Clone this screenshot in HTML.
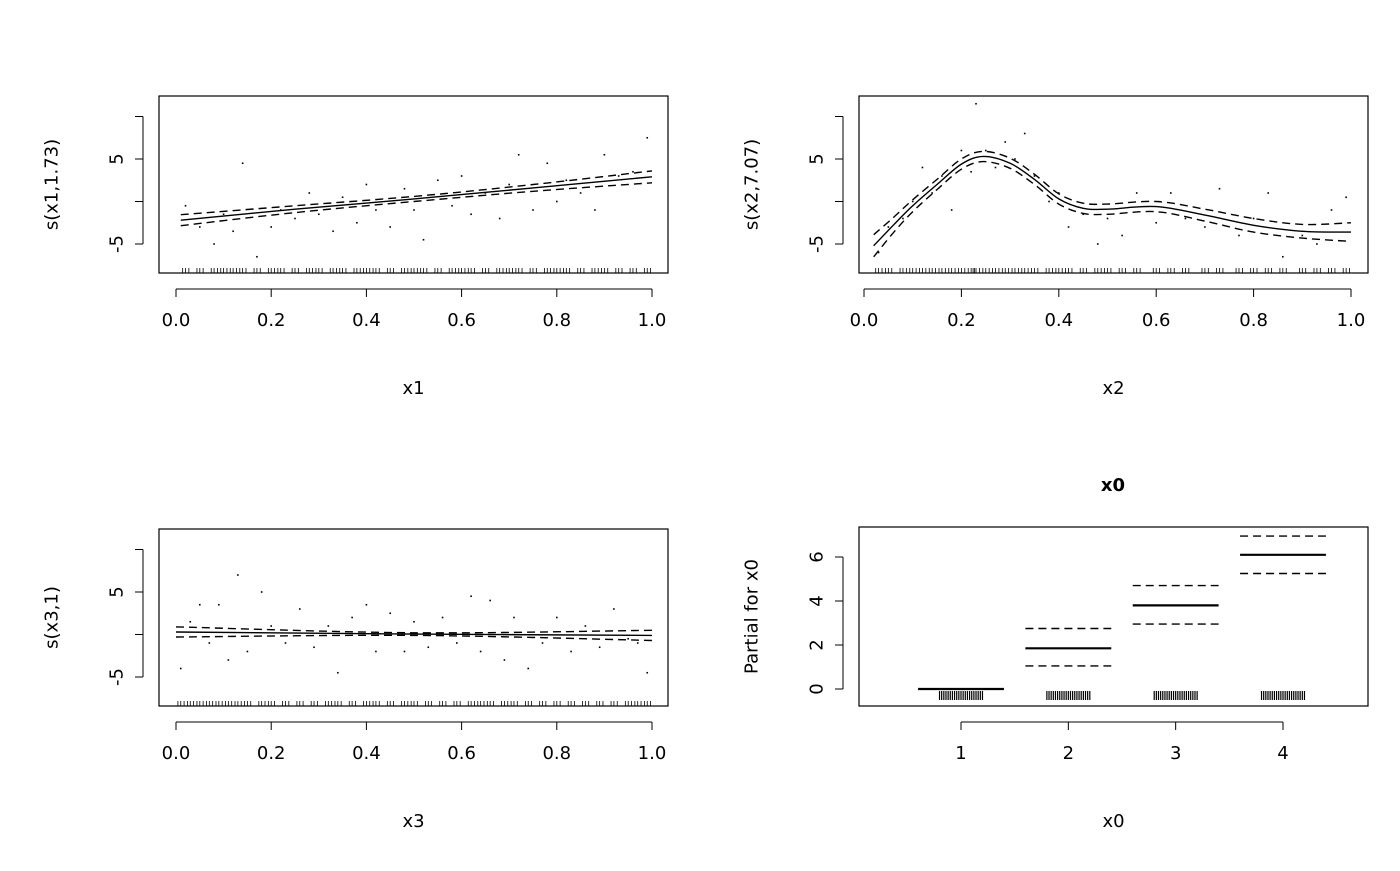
<!DOCTYPE html>
<html><head><meta charset="utf-8"><style>
html,body{margin:0;padding:0;background:#fff;}
svg text{font-family:"DejaVu Sans","Liberation Sans",sans-serif;font-size:18px;fill:#000;}
</style></head><body>
<svg id="c" width="1400" height="866" viewBox="0 0 1400 866" xmlns="http://www.w3.org/2000/svg"></svg>
<script>
// ---- data ----
const p1FitX=[0.01,0.25,0.5,0.75,1.0];
const p1Fit=[-2.2,-0.9,0.3,1.6,2.9];
const p1Se=[0.65,0.4,0.3,0.4,0.7];
const p1PtsX=[0.02,0.05,0.08,0.1,0.12,0.14,0.17,0.2,0.22,0.25,0.28,0.3,0.33,0.35,0.38,0.4,0.42,0.45,0.48,0.5,0.52,0.55,0.58,0.6,0.62,0.65,0.68,0.7,0.72,0.75,0.78,0.8,0.82,0.85,0.88,0.9,0.93,0.96,0.99];
const p1PtsY=[-0.5,-3,-5,-1.5,-3.5,4.5,-6.5,-3,-1,-2,1,-1.5,-3.5,0.5,-2.5,2,-1,-3,1.5,-1,-4.5,2.5,-0.5,3,-1.5,1,-2,2,5.5,-1,4.5,0,2.5,1,-1,5.5,3,3.5,7.5];
const p2FitX=[0.02,0.06,0.1,0.15,0.2,0.245,0.3,0.35,0.4,0.45,0.5,0.6,0.7,0.8,0.9,1.0];
const p2Fit=[-5.2,-2.8,-0.5,2.0,4.4,5.3,4.5,2.6,0.3,-0.8,-0.9,-0.6,-1.6,-2.8,-3.5,-3.6];
const p2Se=[1.3,0.9,0.7,0.6,0.6,0.6,0.6,0.6,0.6,0.6,0.6,0.6,0.7,0.8,0.8,1.1];
const p2PtsX=[0.03,0.05,0.08,0.1,0.12,0.14,0.16,0.18,0.2,0.22,0.23,0.25,0.27,0.29,0.31,0.33,0.35,0.38,0.4,0.42,0.45,0.48,0.5,0.53,0.56,0.6,0.63,0.66,0.7,0.73,0.77,0.8,0.83,0.86,0.9,0.93,0.96,0.99];
const p2PtsY=[-6,-3,-2,0,4,1,3,-1,6,3.5,11.5,6,4,7,5,8,3,0,1,-3,-1.5,-5,-2,-4,1,-2.5,1,-2,-3,1.5,-4,-2,1,-6.5,-4,-5,-1,0.5];
const p3FitX=[0,0.5,1.0];
const p3Fit=[0.3,0.05,-0.1];
const p3Se=[0.6,0.15,0.6];
const p3PtsX=[0.01,0.03,0.05,0.07,0.09,0.11,0.13,0.15,0.18,0.2,0.23,0.26,0.29,0.32,0.34,0.37,0.4,0.42,0.45,0.48,0.5,0.53,0.56,0.59,0.62,0.64,0.66,0.69,0.71,0.74,0.77,0.8,0.83,0.86,0.89,0.92,0.95,0.97,0.99];
const p3PtsY=[-4,1.5,3.5,-1,3.5,-3,7,-2,5,1,-1,3,-1.5,1,-4.5,2,3.5,-2,2.5,-2,1.5,-1.5,2,-1,4.5,-2,4,-3,2,-4,-1,2,-2,1,-1.5,3,-0.5,-1,-4.5];
const p4Levels=[1,2,3,4];
const p4Est=[0,1.85,3.8,6.1];
const p4Lo=[null,1.05,2.95,5.25];
const p4Hi=[null,2.75,4.7,6.95];
const xTicks=[0,0.2,0.4,0.6,0.8,1.0];
const xTickLabels=["0.0","0.2","0.4","0.6","0.8","1.0"];
const yTicksS=[-5,0,5,10];
const yTickLabelsS=["-5","","5",""];
const yTicks4=[0,2,4,6];
// ---- drawing ----
const svg=document.getElementById('c');
const NS='http://www.w3.org/2000/svg';
function el(t,a,parent){const e=document.createElementNS(NS,t);for(const k in a)e.setAttribute(k,a[k]);(parent||svg).appendChild(e);return e;}
function txt(s,x,y,rot,parent,extra){const e=el('text',Object.assign({x:x,y:y,'text-anchor':'middle'},extra||{}),parent);if(rot)e.setAttribute('transform','rotate(-90 '+x+' '+y+')');e.textContent=s;return e;}
function panel(cfg){
  const g=el('g',{});
  
  
  const sx=v=>cfg.x0+(v-cfg.dx0)*(cfg.x1-cfg.x0)/(cfg.dx1-cfg.dx0);
  const sy=v=>cfg.y0+(v-cfg.dy0)*(cfg.y1-cfg.y0)/(cfg.dy1-cfg.dy0);
  const box=el('rect',{x:cfg.bx,y:cfg.by,width:cfg.bw,height:cfg.bh,fill:'none',stroke:'#000','stroke-width':1.2},g);
  
  const ax=el('g',{},g);
  const ayb=cfg.by+cfg.bh+8;
  el('line',{x1:sx(cfg.xt[0]),x2:sx(cfg.xt[cfg.xt.length-1]),y1:ayb+8,y2:ayb+8,stroke:'#000'},ax);
  cfg.xt.forEach((v,i)=>{el('line',{x1:sx(v),x2:sx(v),y1:ayb+8,y2:ayb+16,stroke:'#000'},ax);txt(cfg.xl[i],sx(v),ayb+45,false,ax);});
  const ay=el('g',{},g);
  const axx=cfg.bx-8;
  el('line',{x1:axx-8,x2:axx-8,y1:sy(cfg.yt[0]),y2:sy(cfg.yt[cfg.yt.length-1]),stroke:'#000'},ay);
  cfg.yt.forEach((v,i)=>{el('line',{x1:axx-16,x2:axx-8,y1:sy(v),y2:sy(v),stroke:'#000'},ay);if(cfg.yl[i])txt(cfg.yl[i],axx-34,sy(v),true,ay,{'dominant-baseline':'central'});});
  const xt=txt(cfg.xtitle,(cfg.bx+cfg.bw/2),cfg.by+cfg.bh+121,false,g);
  const yt=txt(cfg.ytitle,cfg.bx-107,cfg.by+cfg.bh/2,true,g,{'dominant-baseline':'central'});
  return {g,sx,sy};
}
function curvePath(xs,ys){
  const P=xs.map((x,i)=>[x,ys[i]]);
  let d='M'+P[0][0].toFixed(1)+','+P[0][1].toFixed(1);
  for(let i=0;i<P.length-1;i++){
    const p0=P[Math.max(0,i-1)],p1=P[i],p2=P[i+1],p3=P[Math.min(P.length-1,i+2)];
    const c1=[p1[0]+(p2[0]-p0[0])/6,p1[1]+(p2[1]-p0[1])/6];
    const c2=[p2[0]-(p3[0]-p1[0])/6,p2[1]-(p3[1]-p1[1])/6];
    d+=' C'+c1.map(v=>v.toFixed(1)).join(',')+' '+c2.map(v=>v.toFixed(1)).join(',')+' '+p2.map(v=>v.toFixed(1)).join(',');
  }
  return d;
}
function smooth(cfg,fx,fy,se,px,py){
  const p=panel(cfg);const {g,sx,sy}=p;
  const pts=el('g',{},g);
  px.forEach((x,i)=>{const r=el('rect',{x:sx(x)-0.8,y:sy(py[i])-0.8,width:1.6,height:1.6,fill:'#000'},pts);});
  const rug=el('g',{},g);
  const rb=cfg.by+cfg.bh;
  px.forEach(x=>{[0,0.007,-0.006].forEach(d=>el('line',{x1:sx(x+d),x2:sx(x+d),y1:rb-5,y2:rb,stroke:'#000','stroke-width':0.8},rug));});
  const path=arr=>curvePath(fx.map(sx),arr.map(sy));
  const f=el('path',{d:path(fy),fill:'none',stroke:'#000','stroke-width':1.4},g);
  const u=el('path',{d:path(fy.map((v,i)=>v+se[i])),fill:'none',stroke:'#000','stroke-width':1.4,'stroke-dasharray':'8,5'},g);
  const l=el('path',{d:path(fy.map((v,i)=>v-se[i])),fill:'none',stroke:'#000','stroke-width':1.4,'stroke-dasharray':'8,5'},g);
}
const common={dx0:0,dx1:1,dy0:0,dy1:5,yt:yTicksS,yl:yTickLabelsS,xt:xTicks,xl:xTickLabels,bw:509,bh:177};
smooth(Object.assign({},common,{name:'panel-s-x1',x0:176,x1:652,y0:201.5,y1:159,bx:159,by:96,xtitle:'x1',ytitle:'s(x1,1.73)'}),p1FitX,p1Fit,p1Se,p1PtsX,p1PtsY);
smooth(Object.assign({},common,{name:'panel-s-x2',x0:864,x1:1351,y0:201.5,y1:159,bx:859,by:96,xtitle:'x2',ytitle:'s(x2,7.07)'}),p2FitX,p2Fit,p2Se,p2PtsX,p2PtsY);
smooth(Object.assign({},common,{name:'panel-s-x3',x0:176,x1:652,y0:634.5,y1:592,bx:159,by:529,xtitle:'x3',ytitle:'s(x3,1)'}),p3FitX,p3Fit,p3Se,p3PtsX,p3PtsY);
// panel 4
(function(){
  const cfg={name:'panel-x0',x0:961,x1:1283,dx0:1,dx1:4,y0:689,y1:557,dy0:0,dy1:6,bx:859,by:527,bw:509,bh:179,xt:p4Levels,xl:p4Levels.map(String),yt:yTicks4,yl:yTicks4.map(String),xtitle:'x0',ytitle:'Partial for x0'};
  const {g,sx,sy}=panel(cfg);
  const t=txt('x0',1113,491,false,g,{'font-weight':'bold','font-size':'22'});
  p4Levels.forEach((lv,i)=>{
    const e=el('line',{x1:sx(lv-0.4),x2:sx(lv+0.4),y1:sy(p4Est[i]),y2:sy(p4Est[i]),stroke:'#000','stroke-width':2.2},g);
    
    if(p4Lo[i]!==null){
      const a=el('line',{x1:sx(lv-0.4),x2:sx(lv+0.4),y1:sy(p4Lo[i]),y2:sy(p4Lo[i]),stroke:'#000','stroke-width':1.4,'stroke-dasharray':'8,5'},g);
      
      const b=el('line',{x1:sx(lv-0.4),x2:sx(lv+0.4),y1:sy(p4Hi[i]),y2:sy(p4Hi[i]),stroke:'#000','stroke-width':1.4,'stroke-dasharray':'8,5'},g);
      
    }
    const r=el('g',{},g);
    for(let k=-0.2;k<=0.2001;k+=0.02){el('line',{x1:sx(lv+k),x2:sx(lv+k),y1:sy(0)+2,y2:sy(0)+11,stroke:'#000','stroke-width':1.2},r);}
  });
})();
</script>
</body></html>
